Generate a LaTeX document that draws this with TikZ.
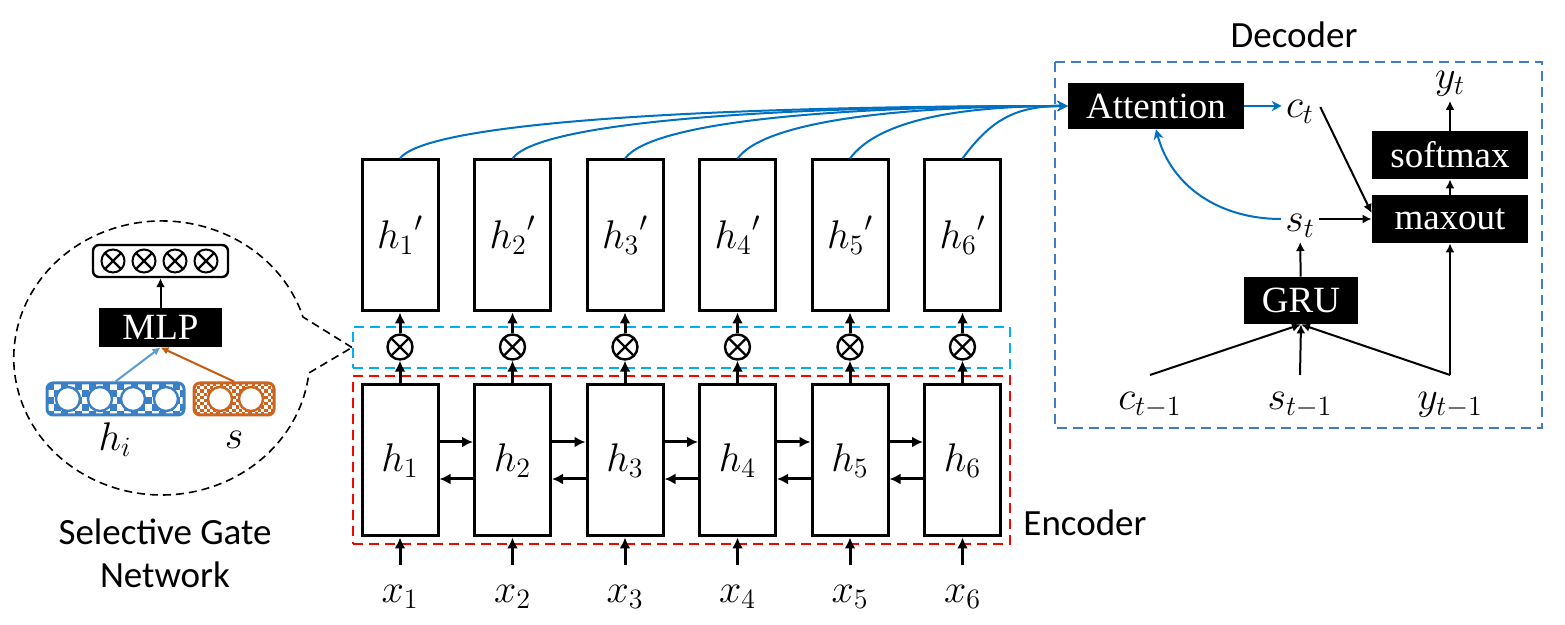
\RequirePackage{fix-cm}
\documentclass[tikz,border=0pt]{standalone}
\usepackage{fontspec}
\setmainfont{Liberation Serif}
\newfontfamily\calibri{Carlito}
\usetikzlibrary{arrows.meta,calc}

\definecolor{attblue}{RGB}{0,112,192}
\definecolor{decblue}{RGB}{61,124,201}
\definecolor{selcyan}{RGB}{0,176,240}
\definecolor{hblue}{RGB}{59,127,196}
\definecolor{lblue}{RGB}{91,155,213}
\definecolor{sorange}{RGB}{204,100,32}
\definecolor{aorange}{RGB}{197,90,17}

\newcommand{\sflab}{\calibri\fontsize{18.5}{21.5}\selectfont}
\newcommand{\mathlab}{\fontsize{20}{24}\selectfont}

\begin{document}
\begin{tikzpicture}[x=0.5pt,y=0.5pt,
  font=\fontsize{18.5}{22}\selectfont,
  lab/.style={inner sep=2pt, font=\mathlab},
  cell/.style={draw, line width=1.5pt, minimum width=38pt, minimum height=75.5pt, inner sep=0pt, font=\mathlab},
  gate/.style={circle, draw, line width=1.2pt, minimum size=12.5pt, inner sep=0pt, fill=white,
    path picture={\draw[line width=1.2pt]
      (path picture bounding box.north west) -- (path picture bounding box.south east)
      (path picture bounding box.north east) -- (path picture bounding box.south west);}},
  sgate/.style={gate, minimum size=11.5pt, line width=1pt},
  blk/.style={fill=black, text=white, inner sep=0pt},
  enc/.style={line width=1.5pt, -{Latex[length=5.5pt,width=5.5pt]}},
  dec/.style={line width=1pt, -{Latex[length=4.5pt,width=4.5pt]}},
  att/.style={line width=1pt, draw=attblue, -{Stealth[length=5pt,width=5pt]}},
  dashbox/.style={line width=1pt, dash pattern=on 5pt off 3pt},
  bubble/.style={line width=0.8pt, dash pattern=on 4pt off 2.5pt}]
\useasboundingbox (0,0) rectangle (1565,-625);

% encoder
\node[dashbox, draw=red, minimum width=328.5pt, minimum height=84pt] (encbox) at (681.5,-460) {};
\node[dashbox, draw=selcyan, minimum width=328.5pt, minimum height=20.5pt] (sel) at (681.5,-347.5) {};
\foreach \i in {1,...,6}{
  \pgfmathsetmacro\cx{400+112.5*(\i-1)}
  \node[cell] (h\i) at (\cx,-460.5) {$h_\i$};
  \node[cell] (hp\i) at (\cx,-235.5) {${h_\i}'$};
  \node[gate] (g\i) at (\cx,-347) {};
  \node[lab] (x\i) at (\cx,-597) {$x_\i$};
  \coordinate (xin\i) at (\cx,-565);
}
\foreach \i in {1,...,6}{
  \draw[enc] (xin\i) -- (h\i);
  \draw[enc] (h\i) -- (g\i);
  \draw[enc] (g\i) -- (hp\i);
}
\foreach \i [count=\j from 2] in {1,...,5}{
  \draw[enc] ($(h\i.east)+(0,18.5)$) -- ($(h\j.west)+(0,18.5)$);
  \draw[enc] ($(h\j.west)+(0,-18.5)$) -- ($(h\i.east)+(0,-18.5)$);
}
\node[font=\sflab] (enclab) at (1085,-523) {Encoder};

% decoder
\draw[dashbox, draw=decblue] (1055,-62) rectangle (1542,-428);
\node[font=\sflab] (declab) at (1294,-35) {Decoder};
\node[blk, minimum width=88pt, minimum height=23pt] (att) at (1156,-106) {Attention};
\node[blk, minimum width=78pt, minimum height=24pt] (sm) at (1450,-155) {softmax};
\node[blk, minimum width=78pt, minimum height=24pt] (mo) at (1450,-219) {maxout};
\node[blk, minimum width=57pt, minimum height=23.5pt] (gru) at (1301,-300.5) {GRU};
\node[lab] (ct) at (1300,-112) {$c_t$};
\node[lab] (st) at (1300,-226) {$s_t$};
\node[lab] (yt) at (1450,-84) {$y_t$};
\node[lab] (cm) at (1150,-405) {$c_{t-1}$};
\node[lab] (sp) at (1300,-405) {$s_{t-1}$};
\node[lab] (ym) at (1450,-405) {$y_{t-1}$};
\coordinate (cin) at (1150,-375);
\coordinate (sin) at (1300,-375);
\coordinate (yin) at (1450,-375);

\foreach \i/\d in {1/334,2/278,3/222,4/165,5/109,6/53}
  \draw[att] (hp\i.north) .. controls +(28,38) and +(-\d,0) .. (att.west);
\draw[att] (att.east) -- (att.east -| ct.west);
\draw[att] (st.west |- mo.west) to[out=180,in=-75] (att.south);
\draw[dec] ($(ct.east)+(2,5)$) -- ($(mo.west)+(0,6)$);
\draw[dec] (st.east |- mo.west) -- (mo.west);
\draw[dec] (gru) -- (st);
\draw[dec] (mo) -- (sm);
\draw[dec] (sm) -- (yt);
\draw[dec] (cin) -- (gru.south);
\draw[dec] (sin) -- (gru.south);
\draw[dec] (yin) -- (gru.south);
\draw[dec] (yin) -- (mo.south);

% selective gate network
\draw[bubble] (sel.west) -- (303,-317)
  arc[start angle=17.4, end angle=353.7, x radius=74pt, y radius=68.5pt] -- cycle;
\node[draw, rounded corners=3pt, line width=1.2pt, minimum width=67.5pt, minimum height=16pt] (gbox) at (160.5,-261) {};
\foreach \k in {0,...,3}
  \node[sgate] (sg\k) at (113+31*\k,-261) {};
\node[blk, minimum width=61.5pt, minimum height=19.5pt] (mlp) at (160.5,-327.5) {MLP};
\draw[dec] (mlp) -- (gbox);

\begin{scope}
  \clip[rounded corners=3pt] (47,-383) rectangle (184,-415);
  \foreach \i in {0,...,19}{\foreach \j in {0,...,4}{
    \pgfmathtruncatemacro\chk{mod(\i+\j,2)}
    \ifnum\chk=0 \fill[hblue] ({47+7*\i},{-383-7*\j}) rectangle ++(7,-7);\fi}}
\end{scope}
\begin{scope}
  \clip[rounded corners=3pt] (194,-383) rectangle (274,-415);
  \foreach \i in {0,...,25}{\foreach \j in {0,...,10}{
    \pgfmathtruncatemacro\chk{mod(\i+\j,2)}
    \ifnum\chk=0 \fill[sorange] ({194+3.2*\i},{-383-3.2*\j}) rectangle ++(3.2,-3.2);\fi}}
\end{scope}
\node[draw=hblue, line width=1.5pt, rounded corners=3pt, minimum width=68.5pt, minimum height=16pt] (hb) at (115.5,-399) {};
\node[draw=sorange, line width=1.5pt, rounded corners=3pt, minimum width=40pt, minimum height=16pt] (sb) at (234,-399) {};
\foreach \k in {68,100,133,166}
  \draw[hblue, line width=1.2pt, fill=white] (\k,-399) circle[radius=6pt];
\foreach \k in {220,251}
  \draw[sorange, line width=1.2pt, fill=white] (\k,-399) circle[radius=6pt];
\draw[line width=1pt, lblue, -{Latex[length=4pt,width=4pt]}] (hb.north) -- (mlp.south);
\draw[line width=1pt, aorange, -{Latex[length=4pt,width=4pt]}] (sb.north) -- (mlp.south);
\node[lab] (hil) at (115,-440) {$h_i$};
\node[lab] (sl) at (234,-440) {$s$};
\node[font=\sflab, align=center] (sgn) at (165,-553) {Selective Gate\\Network};
\end{tikzpicture}
\end{document}
